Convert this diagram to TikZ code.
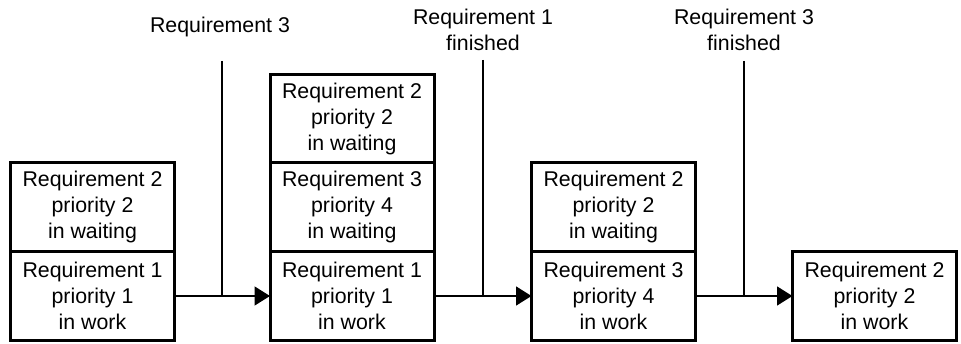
\documentclass[tikz,border=0pt]{standalone}
\usepackage{fontspec}
\setmainfont{Liberation Sans}
\usetikzlibrary{arrows.meta,positioning}
\begin{document}
\begin{tikzpicture}[>={Triangle[length=11.5pt,width=14pt]},x=0.75pt,y=0.75pt,
	font=\fontsize{16}{19.5}\selectfont,
	req/.style={draw,line width=2.25pt,outer sep=0pt,inner sep=0pt,align=center,minimum width=123pt,minimum height=66.5pt},
	conn/.style={line width=1.5pt}]
			\useasboundingbox (0,0) rectangle (961,343);
			% states from left to right
			\node[req] (w1) at (92.5,47) {Requirement 1\\priority 1\\in work};
			\node[req,above=0pt of w1] (q1) {Requirement 2\\priority 2\\in waiting};
			\node[req] (w2) at (352,47) {Requirement 1\\priority 1\\in work};
			\node[req,above=0pt of w2] (q2) {Requirement 3\\priority 4\\in waiting};
			\node[req,above=0pt of q2] (p2) {Requirement 2\\priority 2\\in waiting};
			\node[req] (w3) at (613.5,47) {Requirement 3\\priority 4\\in work};
			\node[req,above=0pt of w3] (q3) {Requirement 2\\priority 2\\in waiting};
			\node[req] (w4) at (874.5,47) {Requirement 2\\priority 2\\in work};
			% events
			\node (e1) at (220,316) {Requirement 3};
			\node[align=center] (e2) at (483,313) {Requirement 1\\finished};
			\node[align=center] (e3) at (744,313) {Requirement 3\\finished};
			\coordinate (t1) at (222,282);\coordinate (t2) at (483,283);\coordinate (t3) at (744,282);
			\draw[conn,->] (w1)--(w2);
			\draw[conn,->] (w2)--(w3);
			\draw[conn,->] (w3)--(w4);
			\foreach \t in{t1,t2,t3}\draw[conn] (\t)--(\t |- w1.east);
	\end{tikzpicture}
\end{document}
